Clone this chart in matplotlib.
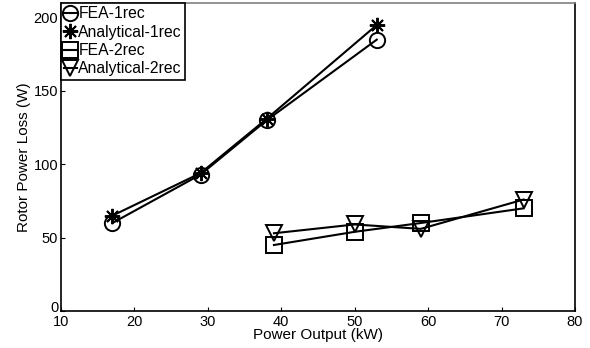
import matplotlib.pyplot as plt
from matplotlib.transforms import ScaledTranslation

plt.rcParams['font.family'] = ['Liberation Sans', 'DejaVu Sans']

# Data
power_1rec = [17, 29, 38, 53]
fea_1rec = [60, 93, 130, 185]
analytical_1rec = [65, 94, 131, 195]

power_2rec = [39, 50, 59, 73]
fea_2rec = [45, 54, 60, 70]
analytical_2rec = [53, 59, 56, 76]

fig = plt.figure(figsize=(5.9, 3.48), dpi=100)
ax = fig.add_axes([61 / 590, 37 / 348, 514 / 590, 308 / 348])

style = dict(color='black', linewidth=1.5, markersize=11,
             markerfacecolor='none', markeredgewidth=1.4)
ax.plot(power_1rec, fea_1rec, marker='o', label='FEA-1rec', **style)
ax.plot(power_1rec, analytical_1rec, marker=(8, 2, 0), label='Analytical-1rec', **style)
ax.plot(power_2rec, fea_2rec, marker='s', label='FEA-2rec', **style)
ax.plot(power_2rec, analytical_2rec, marker='v', label='Analytical-2rec', **style)

ax.set_xlim(10, 80)
ax.set_ylim(0, 210)
ax.set_xticks(range(10, 81, 10))
ax.set_yticks([0, 50, 100, 150, 200])
ax.tick_params(direction='in', length=3, labelsize=10.5)
ax.tick_params(axis='x', pad=3)
ax.tick_params(axis='y', pad=2)
ax.set_xlabel('Power Output (kW)', fontsize=11, labelpad=-1)
ax.set_ylabel('Rotor Power Loss (W)', fontsize=11, labelpad=2)

# nudge the "0" label up a little so it clears the "10" below it
zero_lbl = ax.yaxis.get_major_ticks()[0].label1
zero_lbl.set_transform(zero_lbl.get_transform() + ScaledTranslation(0, 0.05, fig.dpi_scale_trans))

for s in ax.spines.values():
    s.set_linewidth(1.2)
ax.spines['top'].set_color('gray')

leg = ax.legend(loc='upper left', fontsize=11.3, handlelength=0.8, handletextpad=0.1,
                borderpad=0.2, labelspacing=0.22, borderaxespad=0, fancybox=False,
                framealpha=1)
leg.get_frame().set_edgecolor('black')
leg.get_frame().set_linewidth(1.2)

plt.savefig('out.png', dpi=100)
